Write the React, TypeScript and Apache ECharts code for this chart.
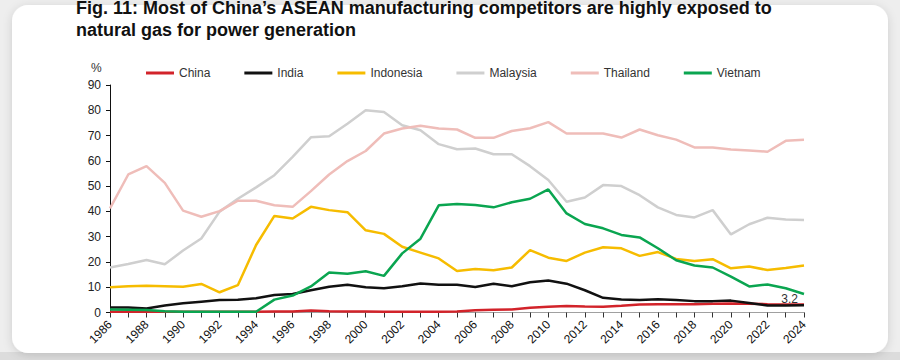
import React, { useEffect, useRef } from "react";
import * as echarts from "echarts";

const years = [
  "1986","1987","1988","1989","1990","1991","1992","1993","1994","1995",
  "1996","1997","1998","1999","2000","2001","2002","2003","2004","2005",
  "2006","2007","2008","2009","2010","2011","2012","2013","2014","2015",
  "2016","2017","2018","2019","2020","2021","2022","2023","2024",
];

const china = [
  0.3, 0.3, 0.3, 0.3, 0.3, 0.3, 0.3, 0.3, 0.3, 0.4,
  0.4, 0.8, 0.5, 0.4, 0.4, 0.3, 0.3, 0.3, 0.3, 0.4,
  0.9, 1.1, 1.2, 1.9, 2.3, 2.6, 2.4, 2.3, 2.7, 3.2,
  3.3, 3.3, 3.3, 3.5, 3.6, 3.5, 3.3, 3.2, 3.2,
];
const india = [
  2.0, 2.0, 1.6, 2.8, 3.7, 4.3, 4.9, 5.0, 5.6, 6.9,
  7.3, 8.8, 10.2, 11.0, 10.0, 9.6, 10.4, 11.5, 11.0, 11.0,
  10.1, 11.4, 10.4, 12.0, 12.7, 11.4, 8.8, 5.8, 5.1, 4.9,
  5.2, 4.9, 4.5, 4.5, 4.7, 3.8, 2.8, 2.8, 2.9,
];
const indonesia = [
  10.0, 10.4, 10.6, 10.4, 10.2, 11.3, 8.0, 10.8, 26.7, 38.2,
  37.2, 41.8, 40.5, 39.7, 32.5, 31.1, 26.0, 23.7, 21.4, 16.4,
  17.2, 16.7, 17.8, 24.7, 21.7, 20.4, 23.7, 25.8, 25.4, 22.4,
  23.9, 21.2, 20.4, 21.1, 17.5, 18.2, 16.8, 17.6, 18.6,
];
const malaysia = [
  17.8, 19.2, 20.8, 19.1, 24.5, 29.3, 39.9, 45.0, 49.5, 54.3,
  61.6, 69.3, 69.7, 74.7, 80.0, 79.3, 74.1, 72.1, 66.6, 64.6,
  64.9, 62.6, 62.6, 57.9, 52.4, 43.8, 45.5, 50.4, 50.0, 46.4,
  41.6, 38.6, 37.6, 40.5, 30.9, 34.9, 37.5, 36.8, 36.6,
];
const thailand = [
  41.2, 54.6, 57.9, 51.3, 40.3, 37.9, 40.1, 44.2, 44.2, 42.4,
  41.8, 48.0, 54.6, 59.9, 63.9, 70.8, 72.8, 73.9, 72.8, 72.4,
  69.1, 69.1, 71.8, 72.9, 75.3, 70.8, 70.8, 70.8, 69.2, 72.4,
  70.1, 68.4, 65.3, 65.3, 64.5, 64.1, 63.6, 67.9, 68.3,
];
const vietnam = [
  1.2, 1.1, 1.0, 0.5, 0.3, 0.3, 0.3, 0.3, 0.3, 5.1,
  6.7, 10.3, 15.8, 15.3, 16.3, 14.5, 23.4, 29.2, 42.4, 42.9,
  42.5, 41.6, 43.6, 45.0, 48.7, 39.2, 35.0, 33.3, 30.7, 29.7,
  25.4, 20.7, 18.6, 17.8, 14.2, 10.3, 11.1, 9.6, 7.3,
];

const seriesNames = ["China", "India", "Indonesia", "Malaysia", "Thailand", "Vietnam"];
const seriesData = [china, india, indonesia, malaysia, thailand, vietnam];
const seriesColors = ["#d2232a", "#111111", "#f6bc00", "#cfcfcf", "#efbdb9", "#0aa550"];

const titleText =
  "Fig. 11: Most of China\u2019s ASEAN manufacturing competitors are highly exposed to\nnatural gas for power generation";
const yUnit = "%";
const FONT = "'Liberation Sans', Arial, Helvetica, sans-serif";

export default function App() {
  const ref = useRef<HTMLDivElement>(null);
  useEffect(() => {
    if (!ref.current) return;
    const chart = echarts.init(ref.current, undefined, { renderer: "svg" });
    const series = seriesNames.map((name, i) => {
      const vals = seriesData[i];
      const isChina = name === "China";
      const data = isChina
        ? vals.map((v, j) =>
            j === vals.length - 1
              ? {
                  value: v,
                  label: {
                    show: true,
                    position: "left",
                    distance: 6,
                    offset: [0, -5],
                    formatter: String(v),
                    fontSize: 12,
                    color: "#333",
                    fontFamily: FONT,
                  },
                }
              : v
          )
        : vals;
      return {
        name,
        type: "line",
        data,
        symbol: isChina ? "circle" : "none",
        symbolSize: 0,
        showSymbol: isChina,
        lineStyle: { color: seriesColors[i], width: 2.5 },
        itemStyle: { color: seriesColors[i] },
        label: { show: false },
        z: 3,
      };
    });
    chart.setOption({
      animation: false,
      backgroundColor: "#eeeeee",
      textStyle: { fontFamily: FONT },
      graphic: [
        {
          type: "rect",
          z: -10,
          shape: { x: 0, y: 352, width: 900, height: 8 },
          style: { fill: "#dcdcdc" },
        },
        {
          type: "rect",
          z: -9,
          shape: { x: 12, y: 5, width: 876, height: 348, r: 16 },
          style: {
            fill: "#ffffff",
            shadowBlur: 10,
            shadowColor: "rgba(0,0,0,0.14)",
            shadowOffsetY: 2,
          },
        },
        {
          type: "text",
          z: 5,
          left: 91,
          top: 62,
          style: { text: yUnit, fontSize: 12, fill: "#333", fontFamily: FONT },
        },
      ],
      title: {
        text: titleText,
        left: 76,
        top: -3,
        padding: 0,
        textStyle: {
          fontSize: 18,
          fontWeight: "bold",
          color: "#111",
          lineHeight: 22,
          fontFamily: FONT,
        },
      },
      legend: {
        data: seriesNames,
        left: 146,
        top: 67,
        padding: 0,
        itemWidth: 28,
        itemHeight: 3,
        itemGap: 34,
        icon: "rect",
        textStyle: { fontSize: 12, color: "#333", fontFamily: FONT },
      },
      grid: { left: 110, right: 96, top: 85, bottom: 47.5, containLabel: false },
      xAxis: {
        type: "category",
        data: years,
        boundaryGap: false,
        axisLine: { lineStyle: { color: "#a0a0a0", width: 1 } },
        axisTick: { interval: 0, length: 5, lineStyle: { color: "#333" } },
        axisLabel: {
          interval: 1,
          rotate: 45,
          fontSize: 12,
          color: "#111",
          margin: 10,
          fontFamily: FONT,
        },
        splitLine: { show: false },
      },
      yAxis: {
        type: "value",
        min: 0,
        max: 90,
        interval: 10,
        axisLine: { show: true, lineStyle: { color: "#111", width: 1 } },
        axisTick: { show: true, length: 4, lineStyle: { color: "#111" } },
        axisLabel: { fontSize: 12, color: "#222", margin: 9, fontFamily: FONT },
        splitLine: { show: false },
      },
      series,
    });
    return () => chart.dispose();
  }, []);
  return (
    <div
      ref={ref}
      style={{ position: "fixed", left: 0, top: 0, width: 900, height: 360 }}
    />
  );
}
